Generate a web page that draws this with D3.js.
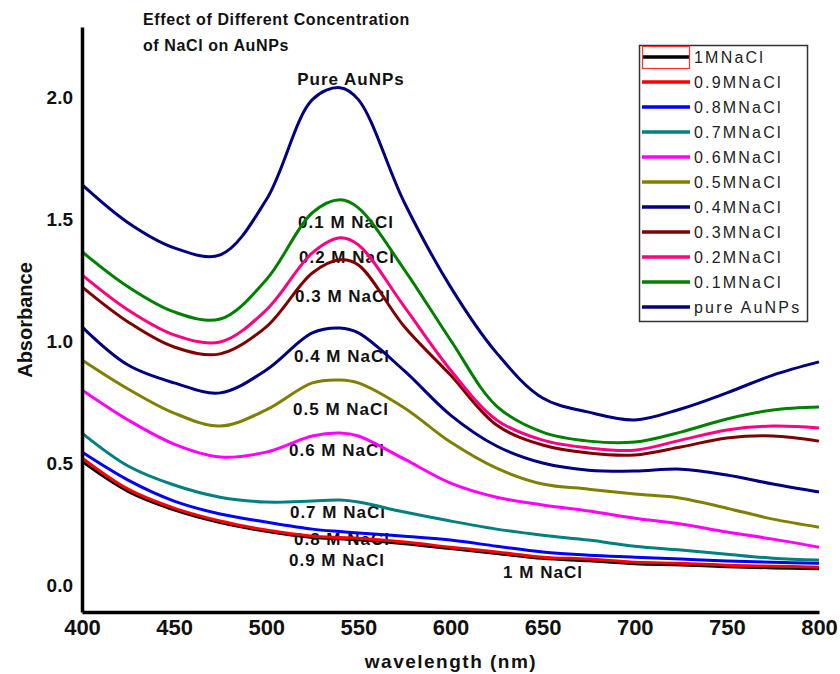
<!DOCTYPE html>
<html>
<head>
<meta charset="utf-8">
<script src="https://cdn.jsdelivr.net/npm/d3@7"></script>
<style>
  body { margin: 0; background: #fff; }
  svg { display: block; font-family: Arial, "Liberation Sans", sans-serif; }
</style>
</head>
<body>
<svg id="canvas" width="840" height="674"></svg>
<script>
'use strict';

// wavelength grid (nm)
var WAVELENGTHS = [400, 425, 450, 475, 500, 525, 540, 550, 575, 600, 625, 650, 675, 700, 725, 750, 775, 800];

// absorbance per series
var ABS_1M   = [0.508, 0.385, 0.309, 0.257, 0.221, 0.196, 0.190, 0.186, 0.170, 0.150, 0.130, 0.110, 0.100, 0.088, 0.083, 0.076, 0.071, 0.067];
var ABS_09M  = [0.522, 0.394, 0.316, 0.263, 0.226, 0.201, 0.196, 0.193, 0.177, 0.156, 0.136, 0.115, 0.107, 0.094, 0.090, 0.082, 0.078, 0.074];
var ABS_08M  = [0.546, 0.431, 0.345, 0.292, 0.259, 0.230, 0.220, 0.214, 0.201, 0.185, 0.160, 0.136, 0.123, 0.115, 0.107, 0.099, 0.094, 0.090];
var ABS_07M  = [0.624, 0.489, 0.411, 0.361, 0.341, 0.345, 0.349, 0.341, 0.300, 0.263, 0.230, 0.205, 0.185, 0.160, 0.144, 0.127, 0.111, 0.103];
var ABS_06M  = [0.801, 0.678, 0.579, 0.526, 0.546, 0.612, 0.624, 0.612, 0.517, 0.419, 0.361, 0.329, 0.304, 0.275, 0.251, 0.218, 0.189, 0.156];
var ABS_05M  = [0.924, 0.805, 0.706, 0.653, 0.719, 0.830, 0.842, 0.830, 0.727, 0.587, 0.480, 0.415, 0.394, 0.374, 0.357, 0.316, 0.271, 0.238];
var ABS_04M  = [1.060, 0.903, 0.830, 0.789, 0.883, 1.035, 1.055, 1.035, 0.879, 0.698, 0.571, 0.501, 0.472, 0.468, 0.476, 0.452, 0.415, 0.382];
var ABS_03M  = [1.224, 1.080, 0.977, 0.949, 1.060, 1.281, 1.335, 1.314, 1.060, 0.862, 0.657, 0.575, 0.542, 0.534, 0.567, 0.604, 0.612, 0.591];
var ABS_02M  = [1.273, 1.129, 1.027, 0.998, 1.129, 1.363, 1.425, 1.396, 1.142, 0.883, 0.678, 0.595, 0.563, 0.554, 0.595, 0.637, 0.653, 0.645];
var ABS_01M  = [1.368, 1.224, 1.121, 1.092, 1.253, 1.528, 1.581, 1.548, 1.294, 1.006, 0.735, 0.628, 0.591, 0.587, 0.628, 0.682, 0.719, 0.731];
var ABS_PURE = [1.643, 1.487, 1.384, 1.355, 1.581, 1.992, 2.041, 1.992, 1.569, 1.224, 0.953, 0.768, 0.710, 0.678, 0.723, 0.789, 0.862, 0.916];

var SERIES_NAMES = ['1MNaCl', '0.9MNaCl', '0.8MNaCl', '0.7MNaCl', '0.6MNaCl', '0.5MNaCl',
                    '0.4MNaCl', '0.3MNaCl', '0.2MNaCl', '0.1MNaCl', 'pure AuNPs'];
var SERIES_VALUES = [ABS_1M, ABS_09M, ABS_08M, ABS_07M, ABS_06M, ABS_05M,
                     ABS_04M, ABS_03M, ABS_02M, ABS_01M, ABS_PURE];
var SERIES_COLORS = ['#000000', '#ff0000', '#0000ff', '#008080', '#ff00ff', '#808000',
                     '#000080', '#800000', '#ff0080', '#008000', '#000080'];

var X_TICKS = [400, 450, 500, 550, 600, 650, 700, 750, 800];
var Y_TICKS = [0.0, 0.5, 1.0, 1.5, 2.0];

// in-plot annotations, anchored in data units (wavelength, absorbance)
var LABEL_TEXTS = ['Pure AuNPs', '0.1 M NaCl', '0.2 M NaCl', '0.3 M NaCl', '0.4 M NaCl', '0.5 M NaCl',
                   '0.6 M NaCl', '0.7 M NaCl', '0.8 M NaCl', '0.9 M NaCl', '1 M NaCl'];
var LABEL_WL  = [546.0, 543.3, 543.8, 541.7, 541.1, 540.6, 538.4, 538.9, 541.1, 538.4, 650.2];
var LABEL_ABS = [2.053, 1.466, 1.322, 1.162, 0.916, 0.698, 0.530, 0.275, 0.164, 0.078, 0.029];

function RenderChart() {
  var svg = d3.select('#canvas');

  var x = d3.scaleLinear().domain([400, 800]).range([82, 819]);
  var y = d3.scaleLinear().domain([-0.11, 2.29]).range([612, 27]);

  // title
  var title = svg.append('text')
      .attr('x', 143)
      .attr('font-size', 16)
      .attr('font-weight', 'bold')
      .attr('letter-spacing', 0.6)
      .attr('fill', '#111');
  title.append('tspan').attr('x', 143).attr('y', 25).text('Effect of Different Concentration');
  title.append('tspan').attr('x', 143).attr('y', 51).text('of NaCl on AuNPs');

  // annotations under the curves
  svg.append('g').selectAll('text')
      .data(LABEL_TEXTS)
    .enter().append('text')
      .attr('x', function(d, i) { return x(LABEL_WL[i]); })
      .attr('y', function(d, i) { return y(LABEL_ABS[i]); })
      .attr('text-anchor', 'middle')
      .attr('font-size', 17)
      .attr('font-weight', 'bold')
      .attr('letter-spacing', 1)
      .attr('fill', '#111')
      .text(function(d) { return d; });

  var line = d3.line()
      .x(function(d, i) { return x(WAVELENGTHS[i]); })
      .y(function(d) { return y(d); })
      .curve(d3.curveCatmullRom.alpha(0.5));

  svg.append('g').selectAll('path')
      .data(SERIES_VALUES)
    .enter().append('path')
      .attr('d', line)
      .attr('fill', 'none')
      .attr('stroke', function(d, i) { return SERIES_COLORS[i]; })
      .attr('stroke-width', 3);

  // axes
  var xAxis = svg.append('g')
      .attr('transform', 'translate(0,' + y.range()[0] + ')')
      .call(d3.axisBottom(x).tickValues(X_TICKS).tickSize(0).tickPadding(7).tickFormat(d3.format('d')));
  xAxis.select('.domain').attr('stroke', '#000').attr('stroke-width', 3.5);
  xAxis.selectAll('text')
      .attr('font-size', 22)
      .attr('font-weight', 'bold')
      .attr('font-family', 'Arial, "Liberation Sans", sans-serif')
      .attr('fill', '#111');

  var yAxis = svg.append('g')
      .attr('transform', 'translate(' + x.range()[0] + ',0)')
      .call(d3.axisLeft(y).tickValues(Y_TICKS).tickSize(0).tickPadding(9).tickFormat(d3.format('.1f')));
  yAxis.select('.domain').attr('stroke', '#000').attr('stroke-width', 3.5);
  yAxis.selectAll('text')
      .attr('font-size', 19)
      .attr('font-weight', 'bold')
      .attr('font-family', 'Arial, "Liberation Sans", sans-serif')
      .attr('fill', '#111');

  svg.append('text')
      .attr('x', 451)
      .attr('y', 668)
      .attr('text-anchor', 'middle')
      .attr('font-size', 19)
      .attr('font-weight', 'bold')
      .attr('letter-spacing', 1.5)
      .attr('fill', '#111')
      .text('wavelength (nm)');

  svg.append('text')
      .attr('transform', 'translate(32,320) rotate(-90)')
      .attr('text-anchor', 'middle')
      .attr('font-size', 20)
      .attr('font-weight', 'bold')
      .attr('fill', '#111')
      .text('Absorbance');

  // legend
  var legend = svg.append('g');
  legend.append('rect')
      .attr('x', 639.5).attr('y', 45.5)
      .attr('width', 168).attr('height', 276)
      .attr('fill', '#fff')
      .attr('stroke', '#333')
      .attr('stroke-width', 1.5);

  var item = legend.selectAll('g.item')
      .data(SERIES_NAMES)
    .enter().append('g')
      .attr('class', 'item')
      .attr('transform', function(d, i) { return 'translate(0,' + (57 + i * 25) + ')'; });
  item.append('line')
      .attr('x1', 642).attr('x2', 690)
      .attr('stroke', function(d, i) { return SERIES_COLORS[i]; })
      .attr('stroke-width', 3.5);
  item.append('text')
      .attr('x', 694)
      .attr('y', 6)
      .attr('font-size', 16)
      .attr('letter-spacing', 2.2)
      .attr('fill', '#222')
      .text(function(d) { return d; });

  // selection box left around the first legend swatch
  legend.append('rect')
      .attr('x', 642.5).attr('y', 46.5)
      .attr('width', 47).attr('height', 22)
      .attr('fill', 'none')
      .attr('stroke', '#ff3030')
      .attr('stroke-width', 1.2);
}

RenderChart();
</script>
</body>
</html>
